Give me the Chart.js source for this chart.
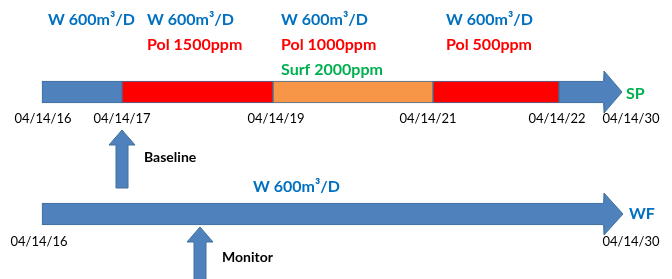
<!DOCTYPE html>
<html lang="en">
<head>
<meta charset="UTF-8">
<title>Injection timeline</title>
<script src="https://cdn.jsdelivr.net/npm/chart.js"></script>
<style>
body {margin:0; background:#fff}
#wrap {width:672px; height:279px}
</style>
</head>
<body>
<div id="wrap"><canvas id="myChart" width="672" height="279"></canvas></div>
<script>
// timeline rows
const rows = ['SP', 'WF'];

// SP row: segment edges along the schematic timeline and the arrow tip
const spEdges = [42, 122, 273, 433, 559, 604];
const spKinds = ['water', 'pol', 'surf', 'pol', 'water'];
const spTip = 622;

// WF row
const wfEdges = [42, 604];
const wfTip = 623;

// date ticks
const spDates = ['04/14/16', '04/14/17', '04/14/19', '04/14/21', '04/14/22', '04/14/30'];
const spDateAt = [43, 122, 276, 428, 557, 631];
const wfDates = ['04/14/16', '04/14/30'];
const wfDateAt = [39, 631];

// injection notes above each stage
const spNotes = [
  ['W 600m³/D'],
  ['W 600m³/D', 'Pol 1500ppm'],
  ['W 600m³/D', 'Pol 1000ppm', 'Surf 2000ppm'],
  ['W 600m³/D', 'Pol 500ppm']
];
const spNoteAt = [48, 147, 281, 446];
const wfNotes = [['W 600m³/D']];
const wfNoteAt = [253];

// sampling markers
const markLabels = ['Baseline', 'Monitor'];
const markAt = [122, 200];
const markRow = ['SP', 'WF'];

const blue = '#4F81BD';
const edge = '#41719C';
const fills = {water: blue, pol: '#FF0000', surf: '#F79646'};
const textCol = {W: '#0070C0', Pol: '#FF0000', Surf: '#00B050'};

const datasets = [];
for (let i = 0; i < spKinds.length; i++) {
  datasets.push({
    data: [[spEdges[i], spEdges[i + 1]], null],
    backgroundColor: fills[spKinds[i]],
    borderColor: edge,
    borderWidth: 1,
    borderSkipped: i === spKinds.length - 1 ? 'right' : false
  });
}
datasets.push({
  data: [null, [wfEdges[0], wfEdges[1]]],
  backgroundColor: blue,
  borderColor: edge,
  borderWidth: 1,
  borderSkipped: 'right'
});

const FONT = 'Lato, "Open Sans", sans-serif';

const diagram = {
  id: 'diagram',
  afterDatasetsDraw(chart) {
    const c = chart.ctx, x = chart.scales.x, y = chart.scales.y;
    const rowY = r => y.getPixelForValue(rows.indexOf(r));

    // arrow heads
    function head(r, base, tip) {
      const cy = rowY(r), bx = x.getPixelForValue(base), tx = x.getPixelForValue(tip);
      const h = 21, s = 11;
      c.save();
      c.fillStyle = blue;
      c.beginPath();
      c.moveTo(bx - 1, cy - s); c.lineTo(bx, cy - h); c.lineTo(tx, cy); c.lineTo(bx, cy + h); c.lineTo(bx - 1, cy + s);
      c.closePath();
      c.fill();
      c.strokeStyle = edge; c.lineWidth = 1;
      c.beginPath();
      c.moveTo(bx, cy - s); c.lineTo(bx, cy - h); c.lineTo(tx, cy); c.lineTo(bx, cy + h); c.lineTo(bx, cy + s);
      c.stroke();
      c.restore();
    }
    head('SP', spEdges[spEdges.length - 1], spTip);
    head('WF', wfEdges[wfEdges.length - 1], wfTip);

    // up arrows (tip offset, bottom offset, label offset from row centre)
    const upGeo = {SP: [38, 96, 65], WF: [13, 80, 43]};
    markLabels.forEach((lab, i) => {
      const cy = rowY(markRow[i]), px = x.getPixelForValue(markAt[i]);
      const g = upGeo[markRow[i]];
      const top = cy + g[0], bot = cy + g[1], hh = 15, sw = 6, hw = 13;
      c.save();
      c.fillStyle = blue; c.strokeStyle = edge; c.lineWidth = 1;
      c.beginPath();
      c.moveTo(px, top); c.lineTo(px + hw, top + hh); c.lineTo(px + sw, top + hh);
      c.lineTo(px + sw, bot); c.lineTo(px - sw, bot); c.lineTo(px - sw, top + hh);
      c.lineTo(px - hw, top + hh); c.closePath();
      c.fill(); c.stroke();
      c.fillStyle = '#000';
      c.font = 'bold 14px ' + FONT;
      c.textBaseline = 'middle'; c.textAlign = 'left';
      c.fillText(lab, px + 22, cy + g[2]);
      c.restore();
    });

    // notes
    function notes(r, list, at, dy) {
      const cy = rowY(r);
      c.save();
      c.font = 'bold 16px ' + FONT;
      c.textBaseline = 'middle'; c.textAlign = 'left';
      list.forEach((lines, i) => {
        lines.forEach((t, k) => {
          c.fillStyle = textCol[t.split(' ')[0]];
          c.fillText(t, x.getPixelForValue(at[i]), cy + dy + k * 25);
        });
      });
      c.restore();
    }
    notes('SP', spNotes, spNoteAt, -72);
    notes('WF', wfNotes, wfNoteAt, -27);

    // dates
    function dates(r, list, at, dy) {
      const cy = rowY(r);
      c.save();
      c.font = '13px ' + FONT;
      c.fillStyle = '#000';
      c.textBaseline = 'middle'; c.textAlign = 'center';
      list.forEach((t, i) => c.fillText(t, x.getPixelForValue(at[i]), cy + dy));
      c.restore();
    }
    dates('SP', spDates, spDateAt, 27);
    dates('WF', wfDates, wfDateAt, 28);

    // row names
    c.save();
    c.font = 'bold 16px ' + FONT;
    c.textBaseline = 'middle'; c.textAlign = 'left';
    c.fillStyle = '#00B050';
    c.fillText('SP', x.getPixelForValue(spTip + 4), rowY('SP') + 2);
    c.fillStyle = '#0070C0';
    c.fillText('WF', x.getPixelForValue(wfTip + 6), rowY('WF'));
    c.restore();
  }
};

new Chart(document.getElementById('myChart'), {
  type: 'bar',
  data: {labels: rows, datasets: datasets},
  options: {
    indexAxis: 'y',
    responsive: false,
    animation: false,
    devicePixelRatio: 1,
    layout: {padding: {top: 31, bottom: 4, left: 0, right: 0}},
    datasets: {bar: {grouped: false, barThickness: 22}},
    scales: {
      x: {type: 'linear', min: 0, max: 672, display: false},
      y: {display: false}
    },
    plugins: {legend: {display: false}, tooltip: {enabled: false}}
  },
  plugins: [diagram]
});
</script>
</body>
</html>
